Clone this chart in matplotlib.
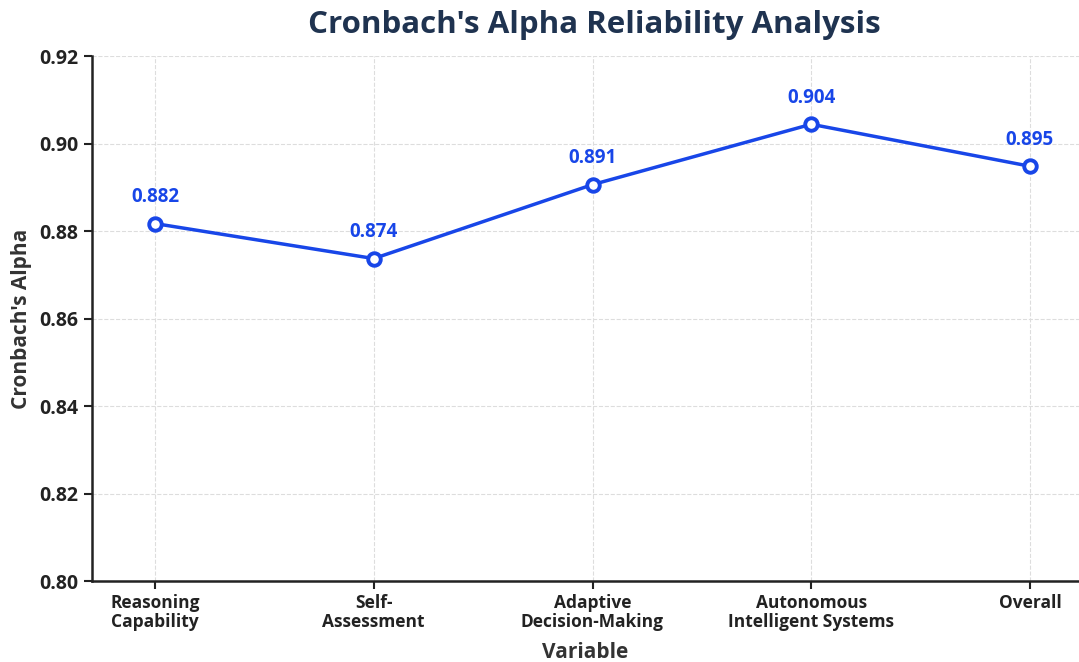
import matplotlib
matplotlib.use("Agg")
import matplotlib.pyplot as plt

categories = ["Reasoning\nCapability", "Self-\nAssessment", "Adaptive\nDecision-Making",
              "Autonomous\nIntelligent Systems", "Overall"]
alpha_values = [0.8817, 0.8737, 0.8906, 0.9044, 0.8948]
value_labels = ["0.882", "0.874", "0.891", "0.904", "0.895"]
yticks = [0.80, 0.82, 0.84, 0.86, 0.88, 0.90, 0.92]

plt.rcParams['font.family'] = ['Open Sans', 'DejaVu Sans']

fig = plt.figure(figsize=(10.79, 6.62), dpi=100)
ax = fig.add_axes([92/1079, 81/662, (1079-92)/1079, 525/662])

x = list(range(len(categories)))
blue = '#1846e8'
ax.plot(x, alpha_values, color=blue, linewidth=2.5, marker='o', markersize=9,
        markerfacecolor='white', markeredgecolor=blue, markeredgewidth=2.8, zorder=3)
for xi, v, lab in zip(x, alpha_values, value_labels):
    ax.annotate(lab, (xi, v), xytext=(0, 12), textcoords='offset points',
                ha='center', va='bottom', color=blue, fontsize=13.5, fontweight='bold')

ax.set_xlim(-0.288, 4.224)
ax.set_ylim(0.80, 0.92)
ax.set_yticks(yticks)
ax.set_yticklabels([f"{t:.2f}" for t in yticks])
ax.set_xticks(x)
ax.set_xticklabels(categories, fontsize=12.5, fontweight='bold', color='#222222',
                   linespacing=1.05)
for lbl in ax.get_yticklabels():
    lbl.set_fontsize(14)
    lbl.set_fontweight('bold')
    lbl.set_color('#222222')

ax.grid(True, linestyle='--', color='#dddddd', linewidth=0.8)
ax.set_axisbelow(True)
for s in ['top', 'right']:
    ax.spines[s].set_visible(False)
for s in ['left', 'bottom']:
    ax.spines[s].set_linewidth(1.8)
    ax.spines[s].set_color('#222222')
ax.tick_params(axis='both', width=1.5, length=6, color='#222222')
ax.tick_params(axis='y', pad=4)

ax.set_xlabel("Variable", fontsize=15, fontweight='bold', color='#333333', labelpad=8)
ax.set_ylabel("Cronbach's Alpha", fontsize=15, fontweight='bold', color='#333333', labelpad=5)
fig.text(594/1079, 1 - 25/662, "Cronbach's Alpha Reliability Analysis", ha='center', va='center',
         fontsize=22.5, fontweight='bold', color='#1f3350')

fig.savefig("out.png", dpi=100)
